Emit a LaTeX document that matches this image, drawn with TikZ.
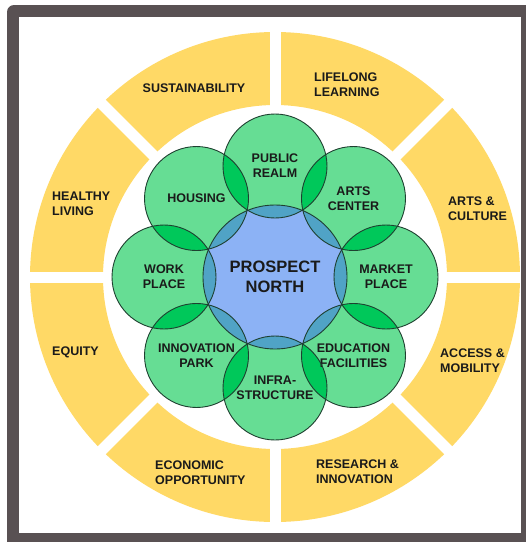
\documentclass[tikz,border=0pt]{standalone}
\usepackage{fontspec}
\setmainfont{Liberation Sans}
\usetikzlibrary{calc}
\definecolor{framec}{HTML}{595153}
\definecolor{ringc}{HTML}{FFD966}
\definecolor{greenc}{HTML}{66DD94}
\definecolor{lensg}{HTML}{00C85A}
\definecolor{bluec}{HTML}{8CB2F5}
\definecolor{lensb}{HTML}{50A3C6}
\definecolor{edgec}{HTML}{1E4030}
\definecolor{txtc}{HTML}{1A1A1A}
\begin{document}
\begin{tikzpicture}[x=1pt,y=-1pt,
  ringlabel/.style={font=\fontsize{12.5}{15}\selectfont\bfseries, text=txtc, align=left, inner sep=0pt},
  gcirc/.style={circle, draw=edgec, line width=0.9pt, minimum size=104pt, inner sep=0pt,
    align=center, font=\fontsize{12.5}{15}\selectfont\bfseries, text=txtc},
  bcirc/.style={circle, draw=edgec, line width=0.9pt, minimum size=144pt, inner sep=0pt,
    align=center, font=\fontsize{16.5}{20}\selectfont\bfseries, text=txtc}]
\useasboundingbox (0,0) rectangle (526,542);
\clip (0,0) rectangle (526,542);
% frame
\fill[framec, rounded corners=7pt] (7,5) rectangle (560,570);
\fill[white] (19,17) rectangle (521,533);
\coordinate (C) at (275,277);
% outer ring
\fill[ringc, even odd rule] (C) circle[radius=245pt] (C) circle[radius=172pt];
\begin{scope}
  \clip (19,17) rectangle (521,533);
  \foreach \a in {0,45,...,315} {
    \draw[white, line width=11pt] ($(C)+(\a:166)$) -- ($(C)+(\a:246)$);
  }
\end{scope}
% ring labels
\node[ringlabel, anchor=center] (sus) at (194,88) {SUSTAINABILITY};
\node[ringlabel, anchor=west] (lif) at (314,84.5) {LIFELONG\\LEARNING};
\node[ringlabel, anchor=west] (art) at (448,208.5) {ARTS \&\\CULTURE};
\node[ringlabel, anchor=west] (acc) at (440,360.5) {ACCESS \&\\MOBILITY};
\node[ringlabel, anchor=west] (res) at (316,471.5) {RESEARCH \&\\INNOVATION};
\node[ringlabel, anchor=west] (eco) at (155,472.5) {ECONOMIC\\OPPORTUNITY};
\node[ringlabel, anchor=center] (equ) at (75.5,352.5) {EQUITY};
\node[ringlabel, anchor=west] (hea) at (52,203.5) {HEALTHY\\LIVING};
% circle centres
\foreach \i in {0,...,7} {
  \coordinate (g\i) at ($(C)+(\i*45:111)$);
}
% fills
\foreach \i in {0,...,7} { \fill[greenc] (g\i) circle[radius=52pt]; }
\fill[bluec] (C) circle[radius=72pt];
\foreach \i [evaluate=\i as \j using {int(mod(\i+1,8))}] in {0,...,7} {
  \begin{scope}
    \clip (g\i) circle[radius=52pt];
    \fill[lensg] (g\j) circle[radius=52pt];
  \end{scope}
}
\begin{scope}
  \clip (C) circle[radius=72pt];
  \foreach \i in {0,...,7} { \fill[lensb] (g\i) circle[radius=52pt]; }
\end{scope}
% outlined nodes with labels
\node[gcirc] (market) at (g0) {MARKET\\PLACE};
\node[gcirc] (educ) at (g1) {EDUCATION\\FACILITIES};
\node[gcirc] (infra) at (g2) {INFRA-\\STRUCTURE};
\node[gcirc] (innov) at (g3) {INNOVATION\\PARK};
\node[gcirc] (work) at (g4) {WORK\\PLACE};
\node[gcirc] (housing) at (g5) {HOUSING};
\node[gcirc] (public) at (g6) {PUBLIC\\REALM};
\node[gcirc] (arts) at (g7) {ARTS\\CENTER};
\node[bcirc] (pn) at (C) {PROSPECT\\NORTH};
\end{tikzpicture}
\end{document}
